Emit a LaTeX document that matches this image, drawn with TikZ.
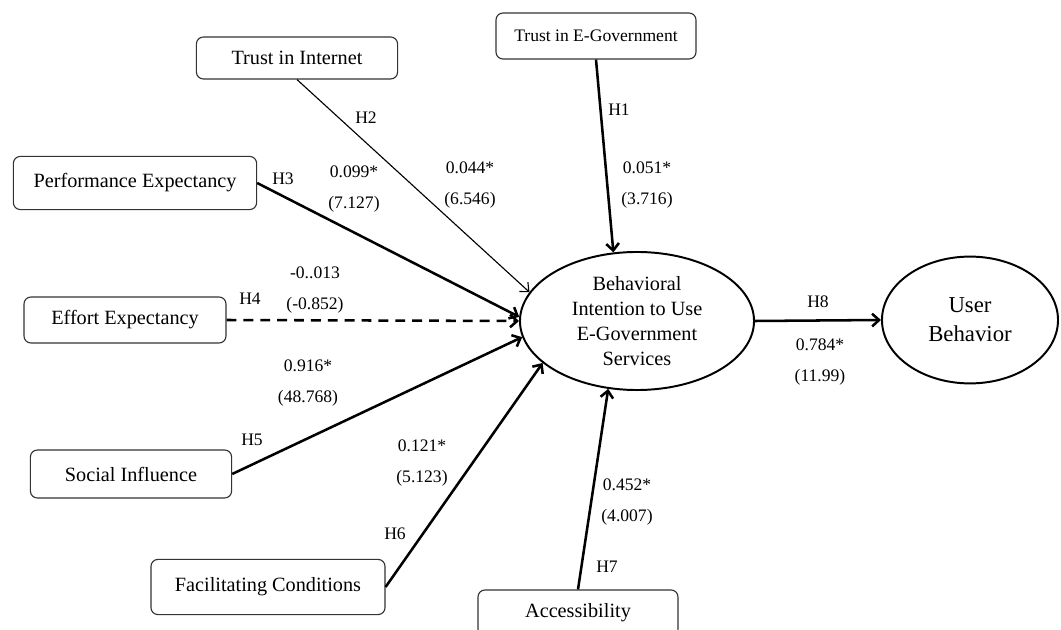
\documentclass[tikz,border=0pt]{standalone}
\usepackage{fontspec}
\setmainfont{Liberation Serif}
\usetikzlibrary{shapes.geometric,arrows.meta}

\begin{document}
\begin{tikzpicture}[x=0.025cm,y=-0.025cm,
    construct/.style={draw=black!80,line width=0.8pt,rounded corners=5pt,align=center,inner sep=0pt,font=\fontsize{14.4}{17}\selectfont},
    latent/.style={draw,ellipse,line width=1.4pt,align=center,inner sep=0pt},
    coef/.style={align=center,inner sep=0pt,font=\fontsize{12.5}{22}\selectfont},
    hyp/.style={inner sep=0pt,font=\fontsize{12.5}{15}\selectfont},
    effect/.style={-{Straight Barb[length=5pt,width=9pt]},line width=1.8pt}]
        \useasboundingbox (0,0) rectangle (1061,630);
        % constructs
        \node[construct,minimum width=5.03cm,minimum height=1.05cm] (tii) at (297,58) {Trust in Internet};
        \node[construct,minimum width=5.0cm,minimum height=1.15cm,font=\fontsize{12.5}{15}\selectfont] (teg) at (596,36) {Trust in E-Government};
        \node[construct,minimum width=6.08cm,minimum height=1.33cm] (pe) at (135,183) {Performance Expectancy};
        \node[construct,minimum width=5.05cm,minimum height=1.15cm] (ee) at (125,320) {Effort Expectancy};
        \node[construct,minimum width=5.03cm,minimum height=1.2cm] (si) at (131,474) {Social Influence};
        \node[construct,minimum width=5.85cm,minimum height=1.38cm] (fc) at (268,587) {Facilitating Conditions};
        \node[construct,minimum width=5.0cm,minimum height=1.15cm] (acc) at (578,613) {Accessibility};
        \node[latent,minimum width=5.85cm,minimum height=3.45cm,font=\fontsize{14.4}{17.8}\selectfont] (bi) at (637,321) {Behavioral\\Intention to Use\\E-Government\\Services};
        \node[latent,minimum width=4.4cm,minimum height=3.17cm,font=\fontsize{16.2}{20.6}\selectfont] (ub) at (970,320) {User\\Behavior};
        % paths
        \draw[effect,line width=0.8pt] (tii.south) -- (bi.165);
        \draw[effect] (teg.south) -- (bi.109);
        \draw[effect] (pe.east) -- (bi.178);
        \draw[effect,dash pattern=on 7pt off 5pt] (ee.east) -- (bi.west);
        \draw[effect] (si.east) -- (bi.188);
        \draw[effect] (fc.east) -- (bi.204);
        \draw[effect] (acc.north) -- (bi.247);
        \draw[effect] (bi.east) -- (ub.west);
        % hypotheses and estimates
        \node[hyp] (h1) at (619,110) {H1};
        \node[coef] (c1) at (647,185) {0.051*\\(3.716)};
        \node[hyp] (h2) at (366,118) {H2};
        \node[coef] (c2) at (470,185) {0.044*\\(6.546)};
        \node[hyp] (h3) at (283,179) {H3};
        \node[coef] (c3) at (354,189) {0.099*\\(7.127)};
        \node[hyp] (h4) at (250,299) {H4};
        \node[coef] (c4) at (315,290) {-0..013\\(-0.852)};
        \node[coef] (c5) at (308,383) {0.916*\\(48.768)};
        \node[hyp] (h5) at (252,440) {H5};
        \node[coef] (c6) at (422,463) {0.121*\\(5.123)};
        \node[hyp] (h6) at (395,534) {H6};
        \node[coef] (c7) at (627,502) {0.452*\\(4.007)};
        \node[hyp] (h7) at (607,567) {H7};
        \node[hyp] (h8) at (818,302) {H8};
        \node[coef] (c8) at (820,362) {0.784*\\(11.99)};
\end{tikzpicture}
\end{document}
